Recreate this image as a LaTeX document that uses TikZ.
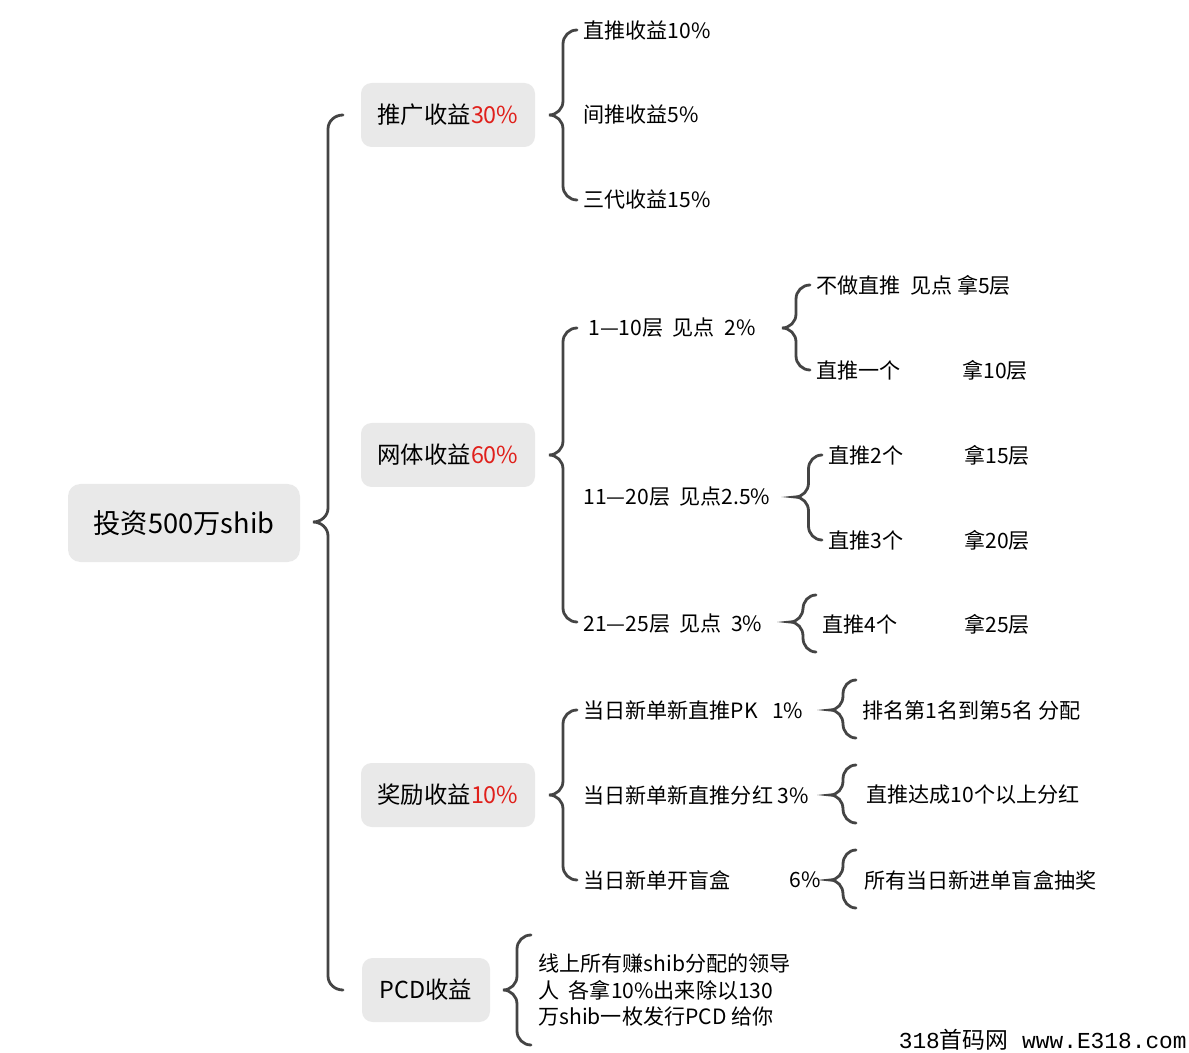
\documentclass[tikz,border=0pt]{standalone}
\usepackage{fontspec}
\setmainfont{Noto Sans CJK SC}
\newfontfamily\wmfont{Liberation Mono}
\definecolor{boxg}{HTML}{E9E9E9}
\definecolor{lineg}{HTML}{444444}
\definecolor{redt}{HTML}{E0201B}
\newcommand\mbrace[5]{% tip x, end x, top, mid, bottom
\pgfmathsetmacro\xm{(#1+#2)/2}
\draw[brc] (#2,#3) to[out=180,in=90] (\xm,#3+14) -- (\xm,#4-14) to[out=-90,in=0] (#1,#4) to[out=0,in=90] (\xm,#4+14) -- (\xm,#5-14) to[out=-90,in=180] (#2,#5);}
\begin{document}
\begin{tikzpicture}[x=0.02cm,y=-0.02cm,
 brc/.style={draw=lineg,line width=1.6pt,line cap=round},
 lvl/.style={fill=boxg,rounded corners=6pt,font=\fontsize{13.3}{15}\selectfont,inner xsep=0pt},
 leaf/.style={anchor=west,inner sep=0pt,font=\fontsize{12}{15}\selectfont}]
\useasboundingbox (0,0) rectangle (1189,1053);
\node[fill=boxg,rounded corners=7pt,minimum width=232*0.02cm,minimum height=78*0.02cm,font=\fontsize{15.5}{17}\selectfont] (root) at (184,523) {投资500万shib};
\node[lvl,minimum width=174*0.02cm,minimum height=64*0.02cm] (a) at (448,115) {推广收益\textcolor{redt}{30\%}};
\node[lvl,minimum width=174*0.02cm,minimum height=64*0.02cm] (b) at (448,455) {网体收益\textcolor{redt}{60\%}};
\node[lvl,minimum width=174*0.02cm,minimum height=64*0.02cm] (c) at (448,795) {奖励收益\textcolor{redt}{10\%}};
\node[lvl,minimum width=128*0.02cm,minimum height=64*0.02cm] (d) at (426,990) {PCD收益};
\mbrace{313}{343}{115}{522}{990}
\mbrace{549}{577}{30}{115}{200}
\mbrace{549}{577}{328}{455}{622}
\mbrace{549}{577}{710}{795}{880}
\mbrace{782}{810}{285}{328}{370}
\mbrace{795}{822}{455}{497}{540}
\mbrace{790}{816}{595}{622}{652}
\mbrace{830}{856}{680}{710}{738}
\mbrace{830}{856}{765}{795}{823}
\mbrace{830}{856}{850}{880}{908}
\mbrace{503}{531}{935}{990}{1045}
\node[leaf] (a1) at (583,30) {直推收益10\%};
\node[leaf] (a2) at (583,115) {间推收益5\%};
\node[leaf] (a3) at (583,200) {三代收益15\%};
\node[leaf] (b1) at (588,328) {1—10层\ \ 见点\ \ 2\%};
\node[leaf] (b2) at (583,497) {11—20层\ \ 见点2.5\%};
\node[leaf] (b3) at (583,624) {21—25层\ \ 见点\ \ 3\%};
\node[leaf] (b11) at (816,285) {不做直推\ \ 见点\ 拿5层};
\node[leaf] (b12) at (816,370) {直推一个};
\node[leaf] at (962,370) {拿10层};
\node[leaf] (b21) at (828,455) {直推2个};
\node[leaf] at (964,455) {拿15层};
\node[leaf] (b22) at (828,540) {直推3个};
\node[leaf] at (964,540) {拿20层};
\node[leaf] (b31) at (822,624) {直推4个};
\node[leaf] at (964,624) {拿25层};
\node[leaf] (c1) at (583,710) {当日新单新直推PK\ \ \ 1\%};
\node[leaf] (c2) at (583,795) {当日新单新直推分红 3\%};
\node[leaf] (c3) at (583,880) {当日新单开盲盒};
\node[leaf] at (789,880) {6\%};
\node[leaf] (c11) at (862,710) {排名第1名到第5名 分配};
\node[leaf] (c21) at (866,795) {直推达成10个以上分红};
\node[leaf] (c31) at (864,880) {所有当日新进单盲盒抽奖};
\node[leaf,align=left,font=\fontsize{12}{15.2}\selectfont] (d1) at (538,990) {线上所有赚shib分配的领导\\人\ \ 各拿10\%出来除以130\\万shib一枚发行PCD 给你};
\node[anchor=east,inner sep=0pt,font=\wmfont\fontsize{13}{14}\selectfont] at (1187,1040) {318\textrm{\fontspec{Noto Sans CJK SC}首码网} www.E318.com};
\end{tikzpicture}
\end{document}
